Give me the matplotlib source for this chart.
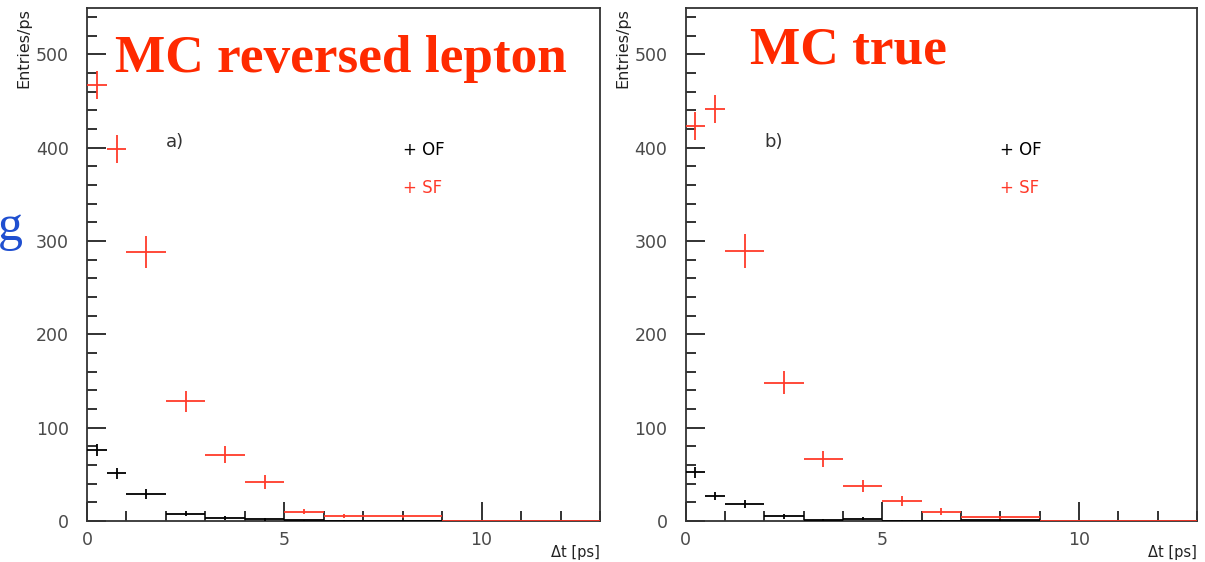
import numpy as np
import matplotlib
matplotlib.use("Agg")
import matplotlib.pyplot as plt
from matplotlib.ticker import MultipleLocator

# ==== Data ====
bin_edges = [0, 0.5, 1, 2, 3, 4, 5, 6, 7, 9, 13]

# panel a) MC reversed lepton
a_sf = [467, 398, 288, 128, 71, 42, 10, 5, 5, 0]
a_sf_err = [15.5, 15, 17, 11.5, 9, 7.5, 3, 2, 1.5, 0]
a_of = [76, 51, 29, 8, 3.5, 2, 0.8, 0.4, 0.4, 0]
a_of_err = [6.5, 5.5, 5, 3, 2, 1.5, 0.8, 0.5, 0.4, 0]

# panel b) MC true
b_sf = [423, 441, 289, 148, 66.5, 37.5, 21.5, 10, 4, 0]
b_sf_err = [15, 15, 18, 12.5, 9, 6.5, 5, 3.5, 1.5, 0]
b_of = [52, 27, 18.5, 5, 1, 2.5, 0.5, 0.5, 1, 0]
b_of_err = [5.5, 4, 4.5, 2.5, 1, 1.5, 0.5, 0.5, 0.5, 0]

panels = [
    ("a)", "MC reversed lepton", a_of, a_of_err, a_sf, a_sf_err),
    ("b)", "MC true", b_of, b_of_err, b_sf, b_sf_err),
]

RED = "#ff3a2a"
TITLE_RED = "#ff2a00"
GREY = "#4a4a4a"

edges = np.array(bin_edges)
centers = 0.5 * (edges[:-1] + edges[1:])
half_w = 0.5 * np.diff(edges)

fig = plt.figure(figsize=(12.05, 5.62), dpi=100)
W, H = 1205, 562

# axes boxes in pixels: left, right
boxes = [(87, 600), (685.5, 1197)]
ax_top, ax_bot = 7.5, 521

for (tag, title, of, of_err, sf, sf_err), (x0, x1) in zip(panels, boxes):
    ax = fig.add_axes([x0 / W, 1 - ax_bot / H, (x1 - x0) / W, (ax_bot - ax_top) / H])
    ax.errorbar(centers, of, xerr=half_w, yerr=of_err, fmt="none",
                ecolor="black", elinewidth=1.3, capsize=0, zorder=3)
    ax.errorbar(centers, sf, xerr=half_w, yerr=sf_err, fmt="none",
                ecolor=RED, elinewidth=1.3, capsize=0, zorder=4)

    ax.set_xlim(0, 13)
    ax.set_ylim(0, 550)
    ax.xaxis.set_major_locator(MultipleLocator(5))
    ax.xaxis.set_minor_locator(MultipleLocator(1))
    ax.yaxis.set_major_locator(MultipleLocator(100))
    ax.yaxis.set_minor_locator(MultipleLocator(20))
    ax.tick_params(which="both", direction="in", width=1.3, color="#222222",
                   labelsize=12.5, labelcolor=GREY, top=False, right=False)
    ax.tick_params(which="major", length=14)
    ax.tick_params(which="minor", length=7)
    ax.tick_params(axis="y", pad=13)
    ax.tick_params(axis="x", pad=7)
    for sp in ax.spines.values():
        sp.set_linewidth(1.3)
        sp.set_color("#333333")

    ax.text(2.0, 406, tag, fontsize=13, color="#333333", va="center")
    ax.text(8.0, 397, "+ OF", fontsize=12, color="black", va="center")
    ax.text(8.0, 357, "+ SF", fontsize=12, color=RED, va="center")

    # axis labels
    fig.text((x0 - 63) / W, 1 - 8 / H, "Entries/ps", rotation=90,
             fontsize=11.5, color="#222222", ha="center", va="top")
    fig.text(x1 / W, 1 - 552 / H, "\u0394t [ps]", fontsize=10.5,
             color="#222222", ha="right", va="center")

# big slide titles
fig.text(115 / W, 1 - 72 / H, "MC reversed lepton", fontsize=38.3, fontweight="bold",
         family="Liberation Serif", color=TITLE_RED, ha="left", va="baseline")
fig.text(750 / W, 1 - 63 / H, "MC true", fontsize=38.3, fontweight="bold",
         family="Liberation Serif", color=TITLE_RED, ha="left", va="baseline")
# cut-off fragment of slide text on the left edge
fig.text(-2 / W, 1 - 240 / H, "g", fontsize=36, family="Liberation Serif",
         color="#1f4fd0", ha="left", va="baseline")

fig.savefig("out.png", dpi=100)
